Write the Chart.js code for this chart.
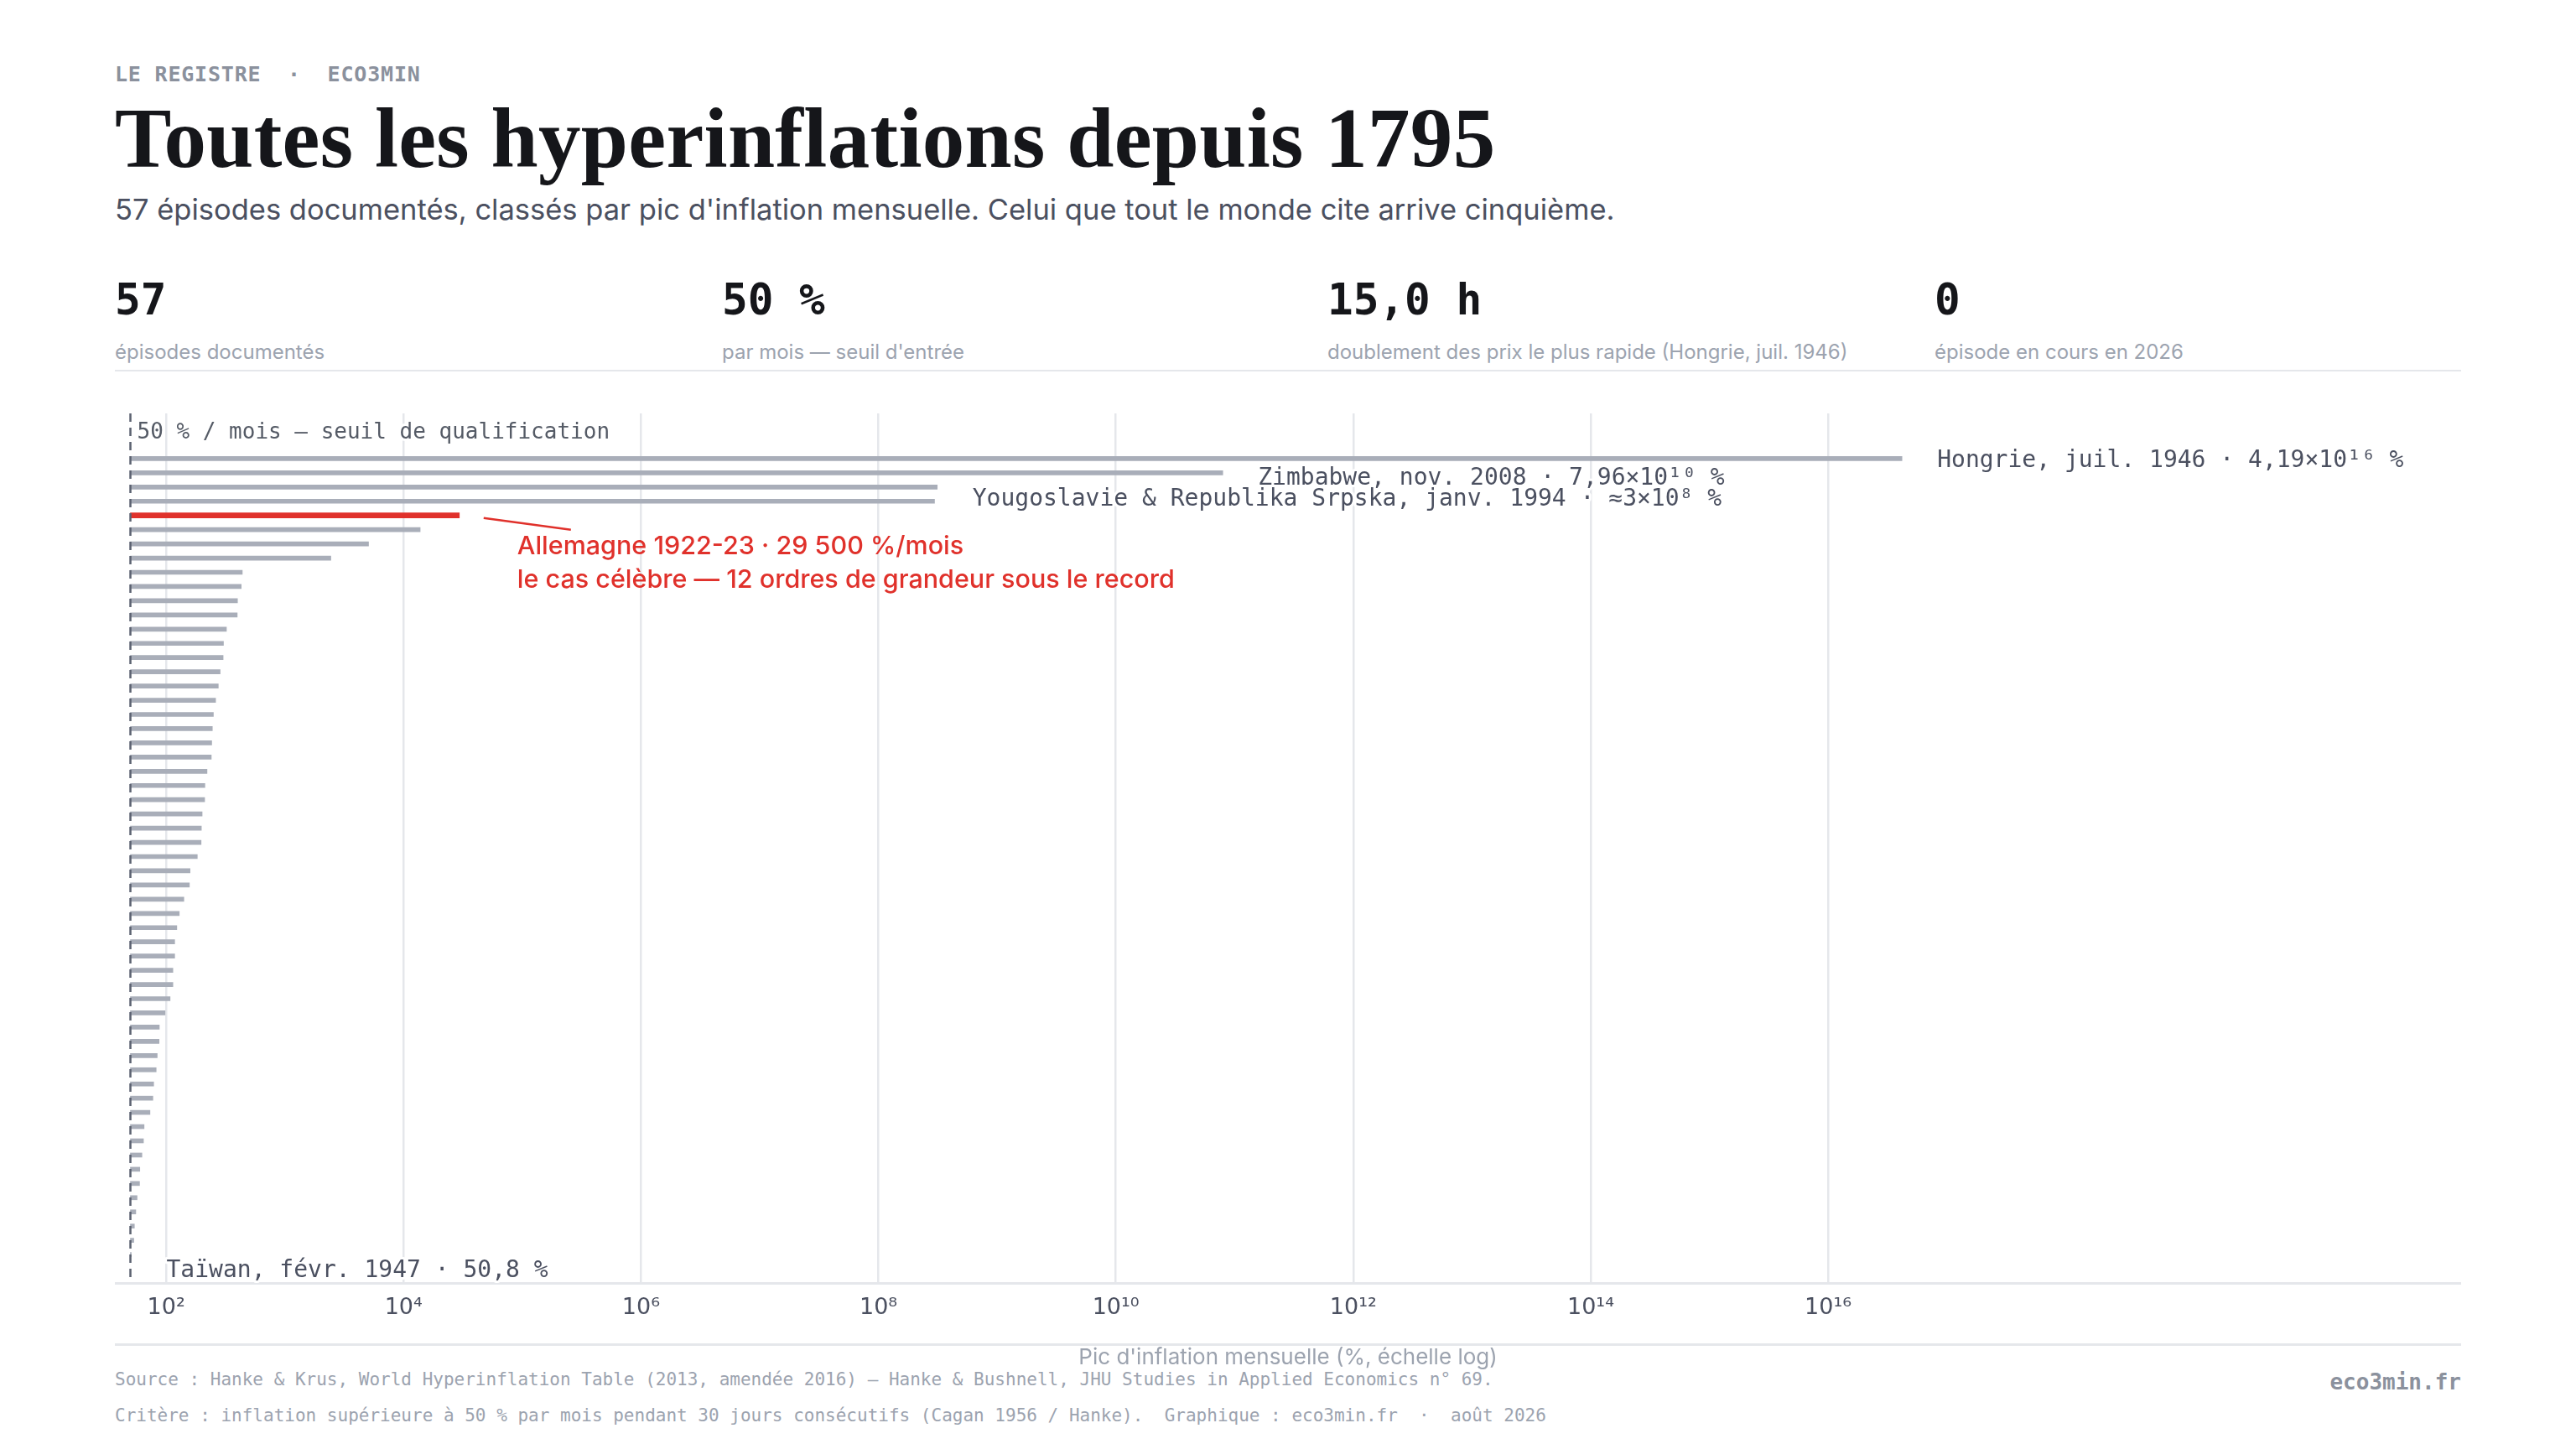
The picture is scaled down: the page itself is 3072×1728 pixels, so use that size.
<!DOCTYPE html>
<html lang="fr">
<head>
<meta charset="utf-8">
<title>Toutes les hyperinflations depuis 1795</title>
<script src="https://cdn.jsdelivr.net/npm/chart.js@4.4.1/dist/chart.umd.min.js"></script>
<style>
  html, body { margin: 0; padding: 0; background: #fff; }
  body { width: 3072px; height: 1728px; position: relative; overflow: hidden; font-family: Inter, "Noto Sans", sans-serif; }
  .abs { position: absolute; white-space: pre; line-height: 1; }
  .mono { font-family: "DejaVu Sans Mono", "Liberation Mono", monospace; }
  #eyebrow { left: 137px; top: 76px; font-size: 25px; font-weight: 700; color: #8b919d; letter-spacing: 0.8px; }
  #titre { left: 137px; top: 115px; font-family: "Liberation Serif", "DejaVu Serif", serif; font-weight: 700; font-size: 101px; color: #15161a; letter-spacing: 0.3px; }
  #sous-titre { left: 137px; top: 233px; font-size: 34.5px; color: #4b5060; }
  .kpi-val { top: 332px; font-size: 51px; font-weight: 700; color: #15161a; }
  .kpi-lib { top: 408px; font-size: 24px; color: #9ca3af; }
  .rule { position: absolute; left: 137px; width: 2798px; background: #e5e7eb; }
  #src1 { left: 137px; top: 1635px; font-size: 21px; color: #9ca3af; }
  #src2 { left: 137px; top: 1678px; font-size: 21px; color: #9ca3af; }
  #marque { right: 137px; top: 1635px; font-size: 26px; font-weight: 700; color: #8b919d; }
  #graph { position: absolute; left: 137px; top: 440px; }
</style>
</head>
<body>
<div id="eyebrow" class="abs mono">LE REGISTRE  ·  ECO3MIN</div>
<div id="titre" class="abs">Toutes les hyperinflations depuis 1795</div>
<div id="sous-titre" class="abs">57 épisodes documentés, classés par pic d'inflation mensuelle. Celui que tout le monde cite arrive cinquième.</div>
<div id="kpis"></div>
<div class="rule" style="top:441px;height:2px"></div>
<div class="rule" style="top:1602px;height:3px"></div>
<div id="src1" class="abs mono">Source : Hanke &amp; Krus, World Hyperinflation Table (2013, amendée 2016) — Hanke &amp; Bushnell, JHU Studies in Applied Economics n° 69.</div>
<div id="src2" class="abs mono">Critère : inflation supérieure à 50 % par mois pendant 30 jours consécutifs (Cagan 1956 / Hanke).  Graphique : eco3min.fr  ·  août 2026</div>
<div id="marque" class="abs mono">eco3min.fr</div>
<canvas id="graph" width="2798" height="1240" style="width:2798px;height:1240px"></canvas>

<script>
// --- données (Hanke & Krus, classées par pic mensuel) ---
const SEUIL = 50;

const EPISODES = [
  "Hongrie, juil. 1946", "Zimbabwe, nov. 2008", "Yougoslavie, janv. 1994", "Republika Srpska, janv. 1994",
  "Allemagne, oct. 1923", "Grèce, oct. 1944", "Chine, mai 1949", "Dantzig, sept. 1923",
  "Arménie, nov. 1993", "Turkménistan, janv. 1996", "Taïwan, août 1945", "Pérou, août 1990",
  "Bosnie-Herzégovine, juin 1992", "France, août 1796", "Chine, juin 1945", "Ukraine, janv. 1992",
  "Pologne, oct. 1923", "Nicaragua, mars 1991", "Congo (Zaïre), nov. 1993", "Russie, janv. 1992",
  "Bulgarie, févr. 1997", "Moldavie, janv. 1992", "Venezuela, nov. 2016", "URSS, févr. 1924",
  "Géorgie, sept. 1994", "Tadjikistan, nov. 1995", "Géorgie, mars 1992", "Argentine, juil. 1989",
  "Bolivie, févr. 1985", "Biélorussie, janv. 1992", "Kirghizistan, janv. 1992", "Kazakhstan, janv. 1992",
  "Autriche, août 1922", "Bulgarie, févr. 1991", "Ouzbékistan, janv. 1992", "Azerbaïdjan, janv. 1992",
  "Congo (Zaïre), nov. 1991", "Pérou, sept. 1988", "Taïwan, oct. 1948", "Hongrie, juil. 1923",
  "Chili, oct. 1973", "Estonie, janv. 1992", "Angola, mai 1996", "Brésil, mars 1990",
  "RD Congo, août 1998", "Pologne, janv. 1990", "Arménie, janv. 1992", "Tadjikistan, janv. 1992",
  "Lettonie, janv. 1992", "Turkménistan, janv. 1992", "Philippines, janv. 1944", "Yougoslavie, déc. 1989",
  "Allemagne, janv. 1920", "Kazakhstan, nov. 1993", "Lituanie, janv. 1992", "Biélorussie, août 1994",
  "Taïwan, févr. 1947"
];

// pic d'inflation mensuelle, en %
const PICS = [
  4.19e16, 7.96e10, 3.13e8, 2.97e8,
  29500, 13800, 5070, 2440,
  438, 429, 399, 397,
  322, 304, 302, 285,
  275, 261, 250, 245,
  242, 240, 221, 212,
  211, 201, 198, 197,
  183, 159, 157, 141,
  129, 123, 118, 118,
  114, 114, 108, 97.9,
  87.6, 87.2, 84.1, 82.4,
  78.5, 77.3, 73.1, 65.2,
  64.4, 62.5, 60.0, 59.7,
  56.9, 55.5, 54.0, 53.4,
  50.8
];

const ALLEMAGNE = 4; // le cas célèbre, en rouge

const TICK_EXPOSANTS = [2, 4, 6, 8, 10, 12, 14, 16];

const ETIQUETTES = [
  { row: 0, text: "Hongrie, juil. 1946 · 4,19×10¹⁶ %" },
  { row: 1, text: "Zimbabwe, nov. 2008 · 7,96×10¹⁰ %" },
  { row: 2, text: "Yougoslavie & Republika Srpska, janv. 1994 · ≈3×10⁸ %" },
  { row: 56, text: "Taïwan, févr. 1947 · 50,8 %" }
];

const NOTE_ALLEMAGNE = [
  "Allemagne 1922-23 · 29 500 %/mois",
  "le cas célèbre — 12 ordres de grandeur sous le record"
];
const LIBELLE_SEUIL = "50 % / mois — seuil de qualification";

const KPI_VALEURS = ["57", "50 %", "15,0 h", "0"];
const KPI_LIBELLES = [
  "épisodes documentés",
  "par mois — seuil d'entrée",
  "doublement des prix le plus rapide (Hongrie, juil. 1946)",
  "épisode en cours en 2026"
];

// --- bandeau de chiffres ---
const kpiBox = document.getElementById("kpis");
const kpiX = [137, 861, 1583, 2307];
KPI_VALEURS.forEach((v, i) => {
  const val = document.createElement("div");
  val.className = "abs mono kpi-val";
  val.style.left = kpiX[i] + "px";
  val.textContent = v;
  kpiBox.appendChild(val);
  const lib = document.createElement("div");
  lib.className = "abs kpi-lib";
  lib.style.left = kpiX[i] + "px";
  lib.textContent = KPI_LIBELLES[i];
  kpiBox.appendChild(lib);
});

// --- graphique ---
const SUP = { "0": "⁰", "1": "¹", "2": "²", "3": "³", "4": "⁴", "5": "⁵", "6": "⁶", "7": "⁷", "8": "⁸", "9": "⁹" };
const sup = (n) => String(n).split("").map((c) => SUP[c]).join("");

const MONO = '"DejaVu Sans Mono", "Liberation Mono", monospace';

const grisData = PICS.map((v, i) => ({ y: i, x: [SEUIL, v] })).filter((d) => d.y !== ALLEMAGNE);
const rougeData = [{ y: ALLEMAGNE, x: [SEUIL, PICS[ALLEMAGNE]] }];

const annotations = {
  id: "annotations",
  afterDatasetsDraw(chart) {
    const { ctx, chartArea, scales: { x, y } } = chart;
    ctx.save();

    // seuil de 50 %
    const xs = x.getPixelForValue(SEUIL);
    ctx.strokeStyle = "#5b6170";
    ctx.lineWidth = 2.5;
    ctx.setLineDash([10, 7]);
    ctx.beginPath();
    ctx.moveTo(xs, chartArea.top);
    ctx.lineTo(xs, chartArea.bottom);
    ctx.stroke();
    ctx.setLineDash([]);

    const halo = (txt, tx, ty) => {
      ctx.strokeStyle = "#fff";
      ctx.lineWidth = 6;
      ctx.lineJoin = "round";
      ctx.strokeText(txt, tx, ty);
      ctx.fillText(txt, tx, ty);
    };

    ctx.textBaseline = "middle";
    ctx.textAlign = "left";
    ctx.font = "26px " + MONO;
    ctx.fillStyle = "#555b66";
    halo(LIBELLE_SEUIL, xs + 8, chartArea.top + 23);

    // étiquettes des extrêmes
    const dy = { 0: 3, 1: 7, 2: 14.5, 56: 20 };
    ctx.font = "28px " + MONO;
    ctx.fillStyle = "#4b5060";
    ETIQUETTES.forEach((e) => {
      const px = x.getPixelForValue(PICS[e.row]) + 42;
      const py = y.getPixelForValue(e.row) + (dy[e.row] || 0);
      halo(e.text, px, py);
    });

    // Allemagne
    const gx = x.getPixelForValue(PICS[ALLEMAGNE]);
    const gy = y.getPixelForValue(ALLEMAGNE);
    ctx.strokeStyle = "#e0312b";
    ctx.lineWidth = 2.5;
    ctx.beginPath();
    ctx.moveTo(gx + 29, gy + 3);
    ctx.lineTo(gx + 133, gy + 17);
    ctx.stroke();
    ctx.fillStyle = "#e0312b";
    ctx.font = "500 30.5px Inter, sans-serif";
    ctx.textBaseline = "alphabetic";
    ctx.fillText(NOTE_ALLEMAGNE[0], gx + 69, gy + 46);
    ctx.fillText(NOTE_ALLEMAGNE[1], gx + 69, gy + 86);

    ctx.restore();
  }
};

new Chart(document.getElementById("graph"), {
  type: "bar",
  data: {
    datasets: [
      {
        label: "Pic mensuel",
        data: grisData,
        backgroundColor: "#a9aeb9",
        barThickness: 5,
        grouped: false,
        borderWidth: 0
      },
      {
        label: "Allemagne",
        data: rougeData,
        backgroundColor: "#e0312b",
        barThickness: 6,
        grouped: false,
        borderWidth: 0
      }
    ]
  },
  options: {
    indexAxis: "y",
    responsive: false,
    animation: false,
    layout: { padding: { top: 53, left: 0, right: 0, bottom: 0 } },
    scales: {
      x: {
        type: "logarithmic",
        min: 37,
        max: 2.15e21,
        afterBuildTicks: (scale) => {
          scale.ticks = TICK_EXPOSANTS.map((e) => ({ value: Math.pow(10, e) }));
        },
        afterFit: (scale) => {
          scale.height = 150;
        },
        ticks: {
          autoSkip: false,
          maxRotation: 0,
          padding: 14,
          color: "#4b5060",
          font: { family: "DejaVu Sans", size: 27 },
          callback: (value) => "10" + sup(Math.round(Math.log10(value)))
        },
        grid: {
          color: "#e5e7eb",
          lineWidth: 2.5,
          drawTicks: false
        },
        border: { display: true, color: "#e5e7eb", width: 3 },
        title: {
          display: true,
          text: "Pic d'inflation mensuelle (%, échelle log)",
          color: "#9ca3af",
          font: { family: "Inter", size: 26 },
          padding: { top: 0, bottom: 45 }
        }
      },
      y: {
        type: "linear",
        display: false,
        reverse: true,
        offset: false,
        grid: { offset: false },
        min: -3.18,
        max: 58.0
      }
    },
    plugins: {
      legend: { display: false },
      title: { display: false },
      tooltip: { enabled: false }
    }
  },
  plugins: [annotations]
});
</script>
</body>
</html>
